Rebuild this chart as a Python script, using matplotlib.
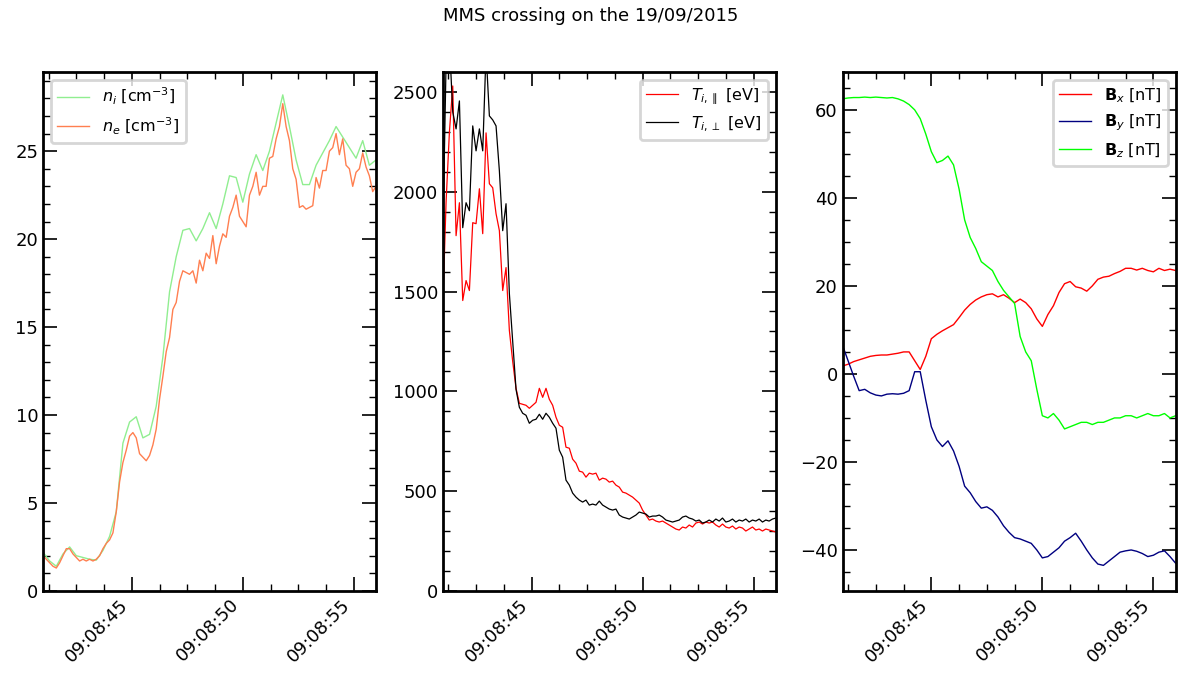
import numpy as np
import matplotlib
matplotlib.use('Agg')
import matplotlib.pyplot as plt
import matplotlib.dates as mdates
from matplotlib.ticker import AutoMinorLocator

t_start = np.datetime64('2015-09-19T09:08:41.000')

# ion density, 0.3 s cadence
ni = [2.2, 1.7, 1.4, 2.1, 2.5, 2.0, 1.9, 1.8, 1.75, 2.3,
      3.1, 4.5, 8.4, 9.6, 9.9, 8.7, 8.9, 10.5, 13.3, 17.0,
      19.0, 20.5, 20.6, 19.9, 20.6, 21.5, 20.6, 22.0, 23.6, 23.5,
      22.1, 23.7, 24.8, 23.9, 25.0, 26.6, 28.2, 26.4, 24.5, 23.1,
      23.1, 24.2, 24.9, 25.6, 26.4, 25.8, 25.2, 24.6, 25.6, 24.2,
      24.5]

# electron density, 0.15 s cadence
ne = [2.0, 1.8, 1.6, 1.4, 1.3, 1.6, 2.0, 2.4, 2.4, 2.1,
      1.9, 1.7, 1.8, 1.7, 1.8, 1.7, 1.8, 2.0, 2.4, 2.7,
      2.9, 3.3, 4.5, 6.2, 7.3, 8.0, 8.8, 9.0, 8.7, 7.8,
      7.6, 7.4, 7.7, 8.3, 9.2, 10.9, 12.2, 13.6, 14.4, 16.0,
      16.4, 17.6, 18.2, 18.1, 18.0, 18.2, 17.5, 18.8, 18.2, 19.2,
      18.9, 20.2, 18.6, 19.6, 20.3, 20.1, 21.3, 21.8, 22.5, 21.3,
      21.0, 20.7, 22.5, 23.0, 23.8, 22.5, 23.0, 23.0, 24.6, 24.7,
      25.7, 26.4, 27.7, 26.4, 25.6, 24.0, 23.4, 21.8, 21.9, 21.7,
      21.8, 21.9, 23.5, 22.9, 23.9, 23.9, 25.0, 25.2, 26.0, 24.8,
      25.7, 24.2, 24.0, 23.0, 23.8, 24.0, 24.9, 24.1, 23.6, 22.7,
      23.0]

# ion temperatures, 0.15 s cadence
t_par = [1420, 1950, 2300, 2530, 1780, 1945, 1455, 1555, 1505, 1845,
         1840, 2015, 1790, 2295, 2040, 2020, 1890, 1805, 1505, 1620,
         1305, 1150, 1015, 940, 935, 930, 915, 930, 945, 1015,
         970, 1015, 960, 930, 870, 830, 820, 720, 715, 660,
         640, 600, 595, 570, 590, 585, 590, 555, 565, 560,
         545, 550, 530, 520, 495, 490, 480, 470, 455, 440,
         405, 380, 355, 360, 350, 345, 350, 340, 330, 320,
         310, 305, 320, 315, 330, 320, 340, 345, 335, 345,
         340, 345, 330, 320, 335, 320, 315, 325, 310, 320,
         315, 300, 310, 320, 305, 310, 300, 310, 305, 300,
         295]
t_perp = [1750, 2650, 2750, 2400, 2315, 2455, 1820, 1945, 1905, 2330,
          2205, 2315, 2205, 2700, 2380, 2360, 2330, 2105, 1805, 1940,
          1490, 1250, 1010, 920, 890, 880, 840, 855, 860, 885,
          860, 890, 870, 840, 815, 705, 670, 555, 530, 490,
          470, 455, 445, 455, 430, 435, 430, 450, 430, 420,
          410, 405, 410, 380, 370, 365, 360, 370, 380, 395,
          390, 385, 370, 375, 375, 380, 370, 355, 350, 345,
          350, 355, 370, 375, 365, 360, 350, 355, 340, 345,
          355, 345, 360, 350, 365, 345, 350, 360, 345, 355,
          350, 360, 345, 355, 350, 360, 345, 355, 350, 360,
          365]

# magnetic field, 0.25 s cadence
bx = [1.8, 2.2, 2.8, 3.2, 3.6, 4.0, 4.2, 4.3, 4.3, 4.5,
      4.7, 5.0, 5.0, 3.0, 1.0, 4.0, 8.0, 9.0, 9.8, 10.5,
      11.2, 12.8, 14.5, 15.8, 16.8, 17.5, 18.0, 18.2, 17.5, 18.0,
      17.2, 16.2, 17.0, 16.2, 14.8, 12.5, 10.8, 13.5, 15.5, 18.5,
      20.5, 21.0, 19.8, 19.5, 18.8, 20.0, 21.5, 22.0, 22.2, 22.8,
      23.3, 24.0, 24.0, 23.6, 24.0, 23.5, 23.2, 24.0, 23.5, 23.8,
      23.5]
by = [6.5, 3.0, -0.5, -3.8, -3.5, -4.3, -4.8, -5.0, -4.6, -4.5,
      -4.6, -4.4, -3.8, 0.5, 0.5, -6.0, -12.0, -15.0, -16.5, -15.2,
      -17.5, -21.0, -25.5, -27.0, -29.0, -30.5, -30.2, -31.0, -32.5, -34.5,
      -36.0, -37.2, -37.5, -38.0, -38.5, -40.0, -41.8, -41.5, -40.5, -39.5,
      -38.0, -37.2, -36.2, -38.0, -40.0, -41.8, -43.2, -43.5, -42.5, -41.5,
      -40.5, -40.2, -40.0, -40.3, -40.8, -41.5, -41.2, -40.5, -40.2, -41.5,
      -43.0]
bz = [62.5, 62.7, 62.8, 62.8, 62.9, 62.8, 62.9, 62.8, 62.7, 62.8,
      62.5, 62.0, 61.2, 60.0, 58.0, 54.5, 50.5, 48.0, 48.5, 49.5,
      47.5, 42.0, 35.0, 31.0, 28.5, 25.5, 24.5, 23.5, 21.0, 19.0,
      17.5, 16.0, 8.5, 5.0, 3.0, -3.5, -9.5, -10.0, -9.0, -10.5,
      -12.5, -12.0, -11.5, -11.0, -11.0, -11.5, -11.0, -11.0, -10.5, -10.0,
      -10.0, -9.5, -9.5, -10.0, -9.5, -9.0, -9.5, -9.5, -9.0, -10.0,
      -9.5]


def times(n, dt_ms):
    return t_start + np.arange(n) * np.timedelta64(dt_ms, 'ms')


t_ni = times(len(ni), 300)
t_ne = times(len(ne), 150)
t_T = times(len(t_par), 150)
t_B = times(len(bx), 250)

plt.rcParams['font.size'] = 13

fig = plt.figure(figsize=(11.81, 6.73), dpi=100)
w = 0.282
axes = [fig.add_axes([0.0364 + i * 0.3385, 0.122, w, 0.771]) for i in range(3)]
ax1, ax2, ax3 = axes

ax1.plot(t_ni, ni, color='lightgreen', lw=1, label=r'$n_i$ [cm$^{-3}$]')
ax1.plot(t_ne, ne, color='coral', lw=1, label=r'$n_e$ [cm$^{-3}$]')
ax1.set_ylim(0, 29.5)
ax1.legend(loc='upper left', fontsize=11.5)

ax2.plot(t_T, t_par, color='red', lw=0.9, label=r'$T_{i,\parallel}$ [eV]')
ax2.plot(t_T, t_perp, color='black', lw=0.9, label=r'$T_{i,\perp}$ [eV]')
ax2.set_ylim(0, 2600)
ax2.legend(loc='upper right', fontsize=11.5)

ax3.plot(t_B, bx, color='red', lw=1, label=r'$\mathbf{B}_x$ [nT]')
ax3.plot(t_B, by, color='navy', lw=1, label=r'$\mathbf{B}_y$ [nT]')
ax3.plot(t_B, bz, color='lime', lw=1, label=r'$\mathbf{B}_z$ [nT]')
ax3.set_ylim(-49.3, 68.6)
ax3.legend(loc='upper right', fontsize=11.5)

for ax in axes:
    ax.set_xlim(t_start, t_start + np.timedelta64(15, 's'))
    ax.xaxis.set_major_locator(mdates.SecondLocator(bysecond=range(0, 60, 5)))
    ax.xaxis.set_major_formatter(mdates.DateFormatter('%H:%M:%S'))
    ax.xaxis.set_minor_locator(AutoMinorLocator(4))
    ax.yaxis.set_minor_locator(AutoMinorLocator())
    ax.tick_params(which='both', direction='in', top=True, right=True)
    ax.tick_params(which='major', length=10, width=1.2)
    ax.tick_params(which='minor', length=5, width=1)
    for s in ax.spines.values():
        s.set_linewidth(2)
    for lab in ax.get_xticklabels():
        lab.set_rotation(45)
        lab.set_ha('right')
    leg = ax.get_legend()
    leg.get_frame().set_linewidth(2)
    leg.get_frame().set_edgecolor('#cccccc')

ax3.yaxis.set_minor_locator(AutoMinorLocator(4))

fig.suptitle('MMS crossing on the 19/09/2015', fontsize=13, y=0.99)
fig.savefig('out.png', dpi=100)
